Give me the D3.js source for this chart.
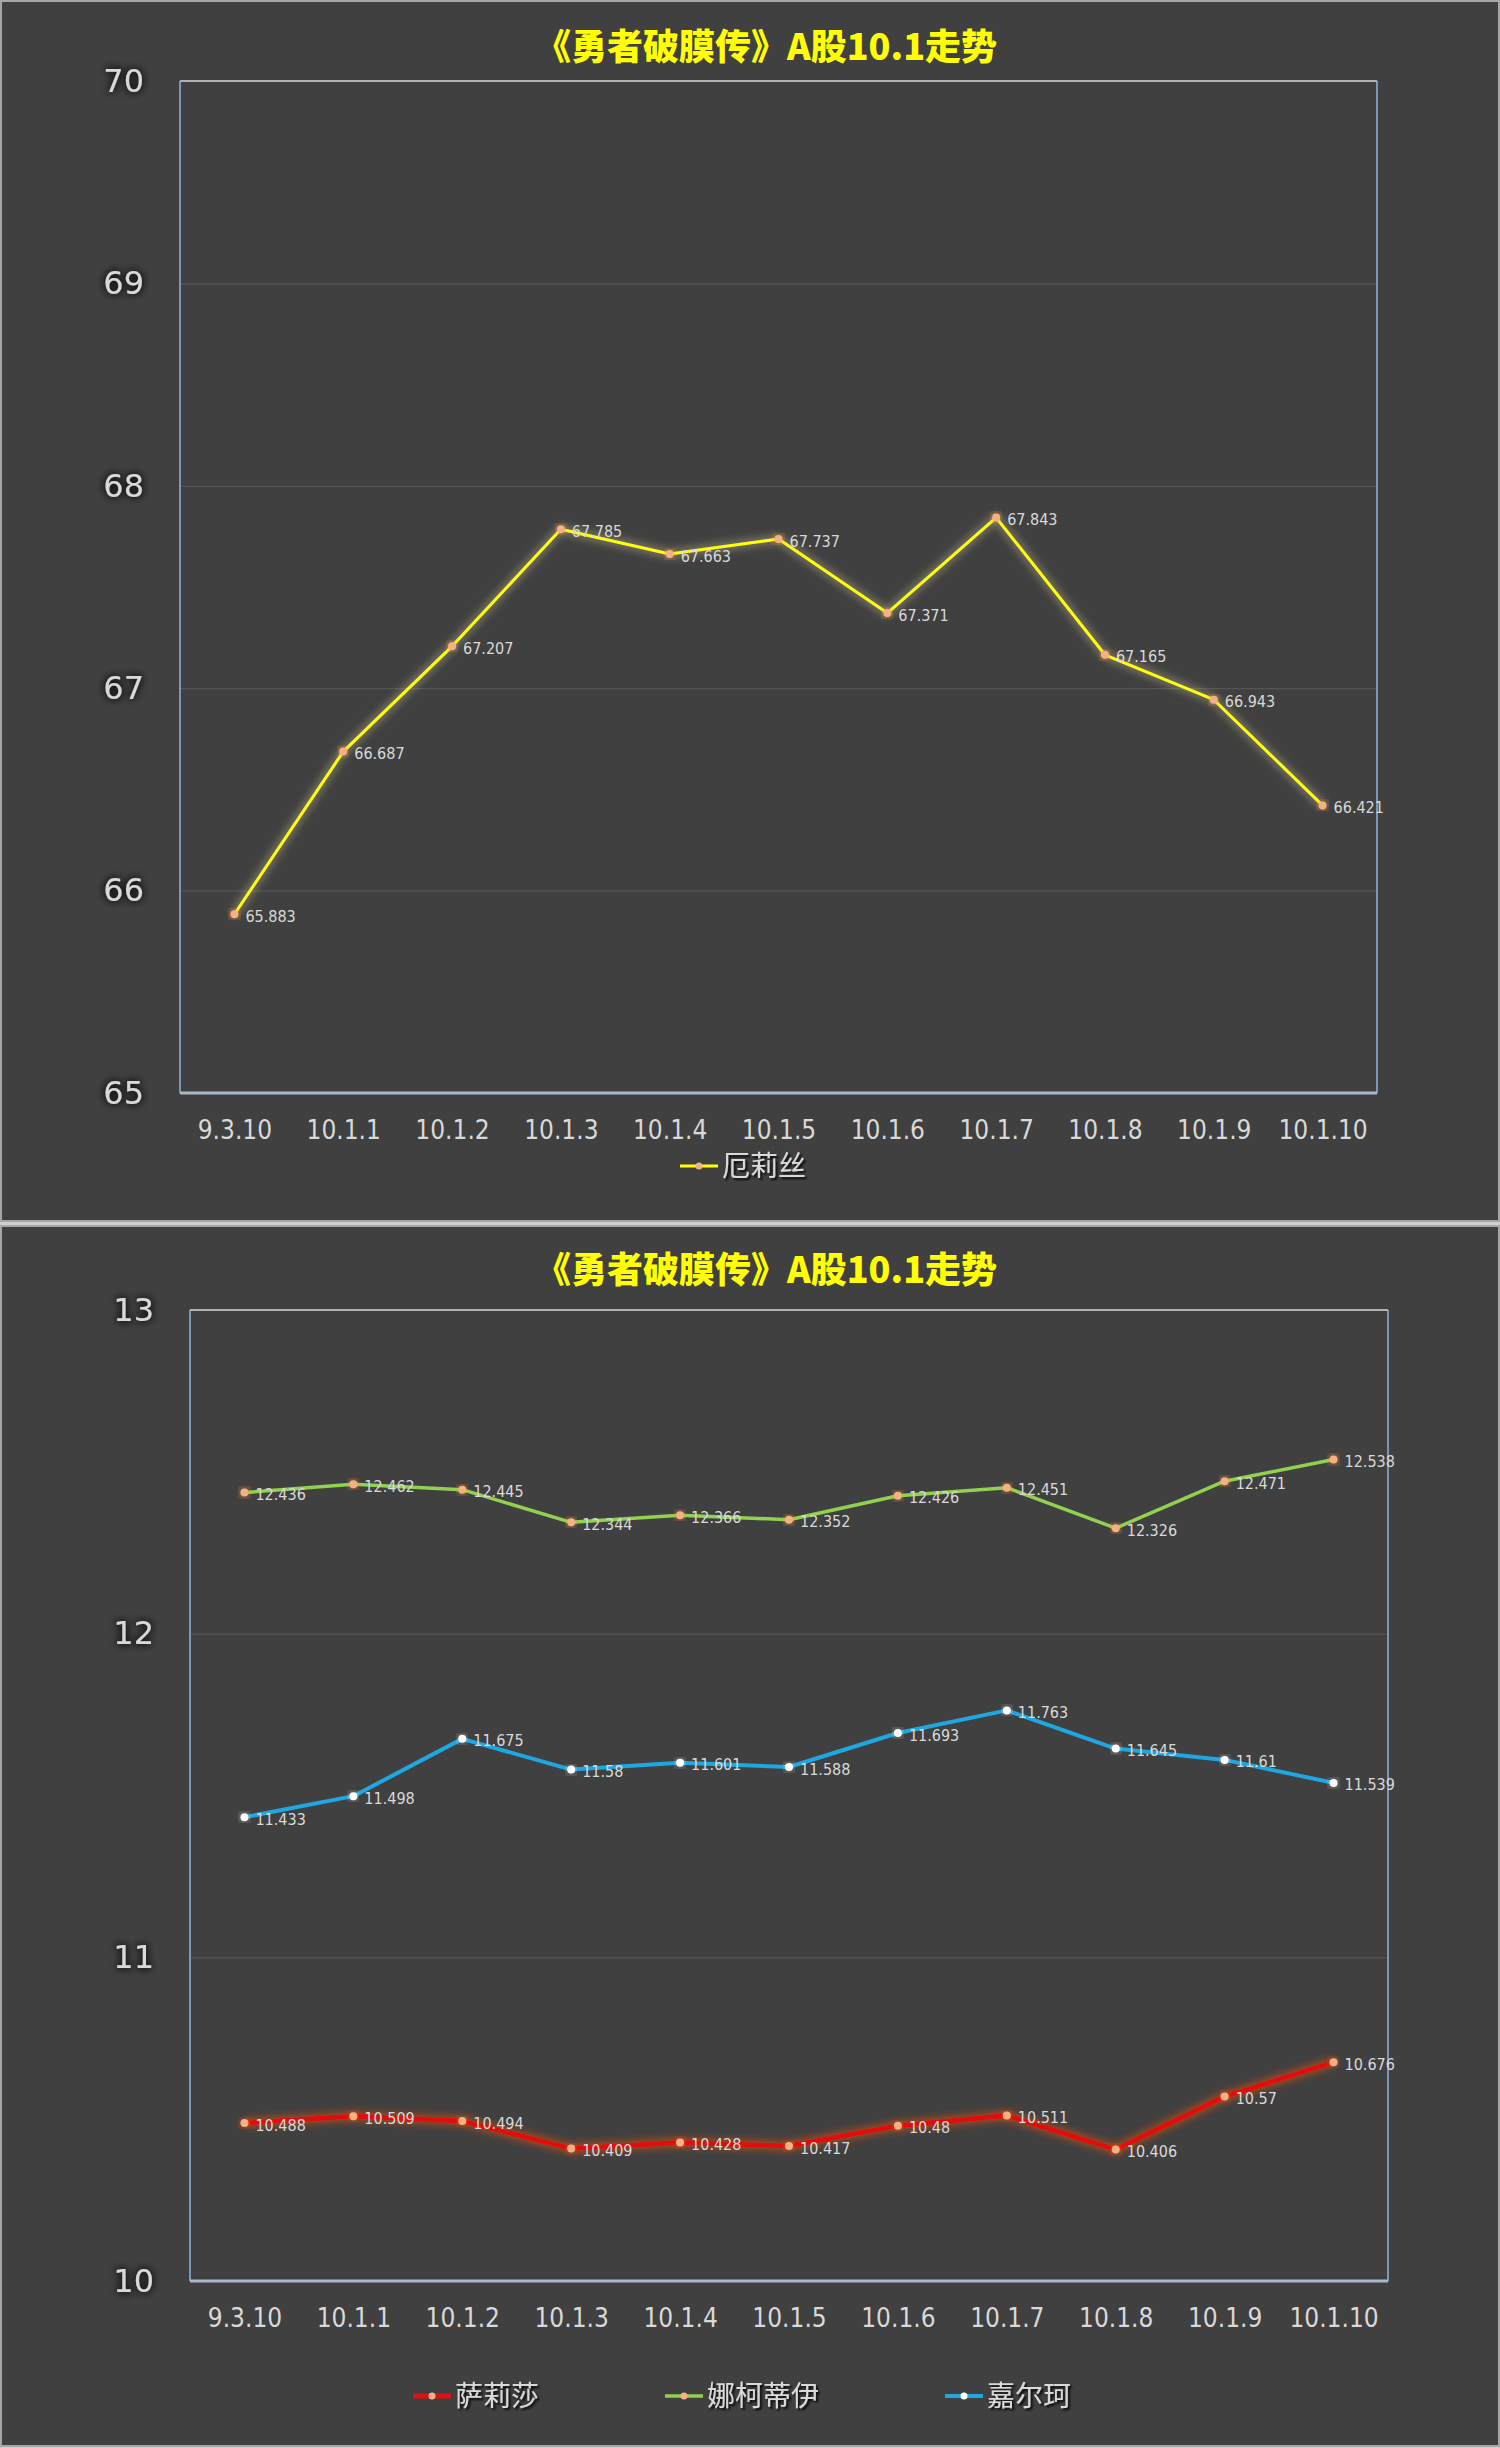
<!DOCTYPE html>
<html>
<head>
<meta charset="utf-8">
<script src="https://cdn.jsdelivr.net/npm/d3@7/dist/d3.min.js"></script>
<style>
	html, body { margin: 0; padding: 0; background: #d0d0d0; }
	svg { display: block; }
	.yTick text { font-family: 'DejaVu Sans', sans-serif; font-size: 32px; fill: #d9d9d9; }
	.xTick text { font-family: 'DejaVu Sans Condensed', 'DejaVu Sans', sans-serif; font-stretch: condensed; font-size: 26px; fill: #d9d9d9; }
	.dataLabel { font-family: 'DejaVu Sans Condensed', 'DejaVu Sans', sans-serif; font-stretch: condensed; font-size: 16px; fill: #d9d9d9; }
	.legendText { font-family: 'Noto Sans CJK SC', sans-serif; font-size: 28px; fill: #d9d9d9; }
	.chartTitle { font-family: 'Noto Sans CJK SC', sans-serif; font-size: 36px; font-weight: 900; fill: #ffff00; }
</style>
</head>
<body>
<div id="chart"></div>
<script>
var WIDTH = 1500;
var HEIGHT = 2448;
var TITLE = '《勇者破膜传》A股10.1走势';

var categories = ['9.3.10', '10.1.1', '10.1.2', '10.1.3', '10.1.4', '10.1.5', '10.1.6', '10.1.7', '10.1.8', '10.1.9', '10.1.10'];

// top chart
var topTicks = [65, 66, 67, 68, 69, 70];
var erisName = '厄莉丝';
var erisValues = [65.883, 66.687, 67.207, 67.785, 67.663, 67.737, 67.371, 67.843, 67.165, 66.943, 66.421];

// bottom chart
var bottomTicks = [10, 11, 12, 13];
var bottomNames = ['萨莉莎', '娜柯蒂伊', '嘉尔珂'];
var salishaValues = [10.488, 10.509, 10.494, 10.409, 10.428, 10.417, 10.48, 10.511, 10.406, 10.57, 10.676];
var nakediyiValues = [12.436, 12.462, 12.445, 12.344, 12.366, 12.352, 12.426, 12.451, 12.326, 12.471, 12.538];
var jiaerkeValues = [11.433, 11.498, 11.675, 11.58, 11.601, 11.588, 11.693, 11.763, 11.645, 11.61, 11.539];

var svg = d3.select('#chart').append('svg')
	.attr('width', WIDTH)
	.attr('height', HEIGHT);

var defs = svg.append('defs');

function makeGlow(id, color, std, opacity) {
	var f = defs.append('filter')
		.attr('id', id)
		.attr('x', '-20%').attr('y', '-20%')
		.attr('width', '140%').attr('height', '140%');
	f.append('feGaussianBlur')
		.attr('in', 'SourceAlpha')
		.attr('stdDeviation', std)
		.attr('result', 'blur');
	f.append('feFlood')
		.attr('flood-color', color)
		.attr('flood-opacity', opacity);
	f.append('feComposite')
		.attr('in2', 'blur')
		.attr('operator', 'in')
		.attr('result', 'glow');
	var merge = f.append('feMerge');
	merge.append('feMergeNode').attr('in', 'glow');
	merge.append('feMergeNode').attr('in', 'glow');
	merge.append('feMergeNode').attr('in', 'SourceGraphic');
}

makeGlow('glowYellow', '#fff2b0', 5, 0.45);
makeGlow('glowRed', '#ff5a1a', 5, 0.5);
makeGlow('glowOrange', '#ff9a40', 4, 0.55);
makeGlow('glowWhite', '#ffffff', 4, 0.35);
makeGlow('shadowDark', '#000000', 4, 0.8);

var legendShadow = defs.append('filter').attr('id', 'legendShadow');
legendShadow.append('feDropShadow')
	.attr('dx', 2).attr('dy', 2)
	.attr('stdDeviation', 1)
	.attr('flood-color', '#000')
	.attr('flood-opacity', 0.9);

// panels
svg.append('rect')
	.attr('x', 1).attr('y', 1)
	.attr('width', WIDTH - 2).attr('height', 1220)
	.attr('fill', '#404040')
	.attr('stroke', '#a6a6a6')
	.attr('stroke-width', 2);

svg.append('rect')
	.attr('x', 1).attr('y', 1226)
	.attr('width', WIDTH - 2).attr('height', 1220)
	.attr('fill', '#404040')
	.attr('stroke', '#a6a6a6')
	.attr('stroke-width', 2);

drawChart({
	titleY: 47,
	plot: { left: 180, right: 1377, top: 81, bottom: 1093 },
	ticks: topTicks,
	xLabelY: 1130,
	legendY: 1166,
	series: [
		{ name: erisName, values: erisValues, color: '#ffff00', width: 3, glow: 'glowYellow',
			marker: '#f4b183', markerGlow: 'glowOrange', legendX: 680 }
	]
});

drawChart({
	titleY: 1270,
	plot: { left: 190, right: 1388, top: 1310, bottom: 2281 },
	ticks: bottomTicks,
	xLabelY: 2318,
	legendY: 2396,
	series: [
		{ name: bottomNames[0], values: salishaValues, color: '#e01010', width: 5, glow: 'glowRed',
			marker: '#f4b183', markerGlow: 'glowRed', legendX: 413 },
		{ name: bottomNames[1], values: nakediyiValues, color: '#92d050', width: 3.5, glow: null,
			marker: '#f4b183', markerGlow: 'glowOrange', legendX: 665 },
		{ name: bottomNames[2], values: jiaerkeValues, color: '#1ea7e1', width: 4, glow: null,
			marker: '#ffffff', markerGlow: 'glowWhite', legendX: 945 }
	]
});

function drawChart(cfg) {
	var p = cfg.plot;

	var x = d3.scalePoint()
		.domain(categories)
		.range([p.left, p.right])
		.padding(0.5);

	var y = d3.scaleLinear()
		.domain(d3.extent(cfg.ticks))
		.range([p.bottom, p.top]);

	var g = svg.append('g');

	// gridlines
	g.append('g')
		.attr('class', 'grid')
		.attr('transform', 'translate(' + p.left + ',0)')
		.call(d3.axisLeft(y)
			.tickValues(cfg.ticks.slice(1, -1))
			.tickSize(-(p.right - p.left))
			.tickFormat(''))
		.call(function (s) {
			s.select('.domain').remove();
			s.selectAll('line').attr('stroke', '#595959').attr('stroke-width', 1);
		});

	// plot area border
	g.append('line')
		.attr('x1', p.left).attr('x2', p.right)
		.attr('y1', p.top).attr('y2', p.top)
		.attr('stroke', '#d9d9d9').attr('stroke-width', 1.5);
	g.append('line')
		.attr('x1', p.left).attr('x2', p.left)
		.attr('y1', p.top).attr('y2', p.bottom)
		.attr('stroke', '#8fb4dc').attr('stroke-width', 1.5);
	g.append('line')
		.attr('x1', p.right).attr('x2', p.right)
		.attr('y1', p.top).attr('y2', p.bottom)
		.attr('stroke', '#8fb4dc').attr('stroke-width', 1.5);
	g.append('line')
		.attr('x1', p.left).attr('x2', p.right)
		.attr('y1', p.bottom).attr('y2', p.bottom)
		.attr('stroke', '#a9b8cc').attr('stroke-width', 3);

	// y axis
	g.append('g')
		.attr('class', 'yTick')
		.attr('transform', 'translate(' + p.left + ',0)')
		.call(d3.axisLeft(y).tickValues(cfg.ticks).tickFormat(d3.format('d')).tickSize(0).tickPadding(36))
		.call(function (s) {
			s.select('.domain').remove();
			s.selectAll('text').attr('filter', 'url(#shadowDark)');
		});

	// x axis
	g.append('g')
		.attr('class', 'xTick')
		.attr('transform', 'translate(0,' + cfg.xLabelY + ')')
		.call(d3.axisBottom(x).tickSize(0).tickPadding(0))
		.call(function (s) {
			s.select('.domain').remove();
			s.selectAll('text').attr('dy', '0.35em');
		});

	// title
	g.append('text')
		.attr('class', 'chartTitle')
		.attr('x', 766)
		.attr('y', cfg.titleY)
		.attr('dy', '0.35em')
		.attr('text-anchor', 'middle')
		.text(TITLE);

	var line = d3.line()
		.x(function (d, i) { return x(categories[i]); })
		.y(function (d) { return y(d); });

	cfg.series.forEach(function (s) {
		var sg = g.append('g');

		sg.append('path')
			.datum(s.values)
			.attr('fill', 'none')
			.attr('stroke', s.color)
			.attr('stroke-width', s.width)
			.attr('stroke-linejoin', 'round')
			.attr('filter', s.glow ? 'url(#' + s.glow + ')' : null)
			.attr('d', line);

		sg.selectAll('circle')
			.data(s.values)
			.enter()
			.append('circle')
			.attr('cx', function (d, i) { return x(categories[i]); })
			.attr('cy', function (d) { return y(d); })
			.attr('r', 4)
			.attr('fill', s.marker)
			.attr('filter', 'url(#' + s.markerGlow + ')');

		sg.selectAll('text')
			.data(s.values)
			.enter()
			.append('text')
			.attr('class', 'dataLabel')
			.attr('x', function (d, i) { return x(categories[i]) + 11; })
			.attr('y', function (d) { return y(d) + 2; })
			.attr('dy', '0.35em')
			.text(function (d) { return d; });

		// legend
		var lg = g.append('g')
			.attr('transform', 'translate(' + s.legendX + ',' + cfg.legendY + ')');
		lg.append('line')
			.attr('x1', 0).attr('x2', 38)
			.attr('stroke', s.color)
			.attr('stroke-width', s.width);
		lg.append('circle')
			.attr('cx', 19)
			.attr('r', 3.5)
			.attr('fill', s.marker);
		lg.append('text')
			.attr('class', 'legendText')
			.attr('x', 42)
			.attr('dy', '0.35em')
			.attr('filter', 'url(#legendShadow)')
			.text(s.name);
	});
}
</script>
</body>
</html>
